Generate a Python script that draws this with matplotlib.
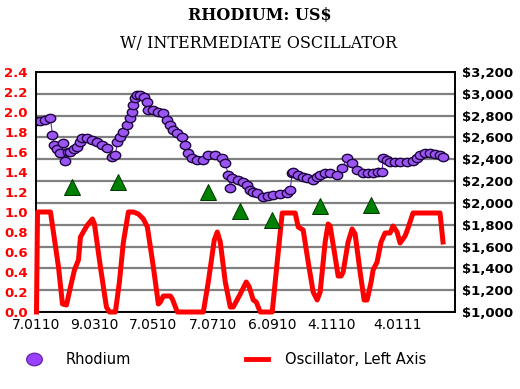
import matplotlib
matplotlib.use("Agg")
import matplotlib.pyplot as plt
from matplotlib.markers import MarkerStyle
from matplotlib.transforms import Affine2D
from matplotlib.lines import Line2D
from matplotlib.ticker import FuncFormatter

# x positions are days since 7 Jan 2010
rhodium_days = [0, 4, 9, 14, 16, 18, 21, 24, 27, 29,
                32, 34, 38, 41, 44, 46, 51, 56, 61, 66,
                71, 76, 79, 81, 84, 87, 91, 94, 96, 97,
                99, 101, 104, 108, 111, 112, 117, 122, 127, 131,
                134, 137, 141, 146, 149, 152, 156, 161, 167, 172,
                179, 186, 189, 192, 194, 196, 202, 207, 211, 214,
                217, 221, 227, 232, 237, 244, 251, 254, 256, 257,
                262, 267, 271, 277, 281, 284, 289, 294, 301, 306,
                311, 316, 321, 327, 332, 337, 342, 346, 347, 351,
                354, 359, 364, 371, 377, 381, 384, 389, 394, 399,
                404, 407]
rhodium_price = [2750, 2750, 2760, 2775, 2620, 2530, 2490, 2460, 2550, 2380,
                 2470, 2470, 2490, 2515, 2560, 2595, 2595, 2580, 2560, 2530,
                 2505, 2420, 2440, 2560, 2605, 2650, 2715, 2780, 2835, 2895,
                 2960, 2990, 2985, 2975, 2925, 2855, 2850, 2830, 2825, 2760,
                 2715, 2670, 2640, 2605, 2530, 2460, 2410, 2395, 2395, 2440,
                 2440, 2410, 2365, 2255, 2140, 2230, 2210, 2190, 2165, 2120,
                 2100, 2090, 2055, 2065, 2070, 2080, 2090, 2120, 2275, 2285,
                 2255, 2240, 2230, 2210, 2235, 2255, 2270, 2275, 2255, 2320,
                 2410, 2365, 2305, 2275, 2270, 2275, 2280, 2285, 2410, 2390,
                 2375, 2375, 2375, 2375, 2380, 2410, 2440, 2455, 2455, 2450,
                 2440, 2420]

osc_days = [0, 1, 14, 22, 26, 30, 34, 38, 42, 44,
            48, 51, 56, 58, 64, 70, 73, 79, 83, 87,
            92, 97, 102, 107, 111, 117, 122, 124, 127, 134,
            136, 141, 167, 172, 178, 181, 184, 189, 194, 197,
            204, 210, 213, 217, 220, 224, 236, 241, 246, 259,
            262, 267, 272, 277, 281, 284, 289, 292, 294, 299,
            302, 305, 307, 312, 316, 319, 324, 328, 331, 335,
            337, 341, 345, 349, 354, 357, 361, 364, 369, 372,
            377, 404, 407]
osc_value = [0.0, 1.0, 1.0, 0.45, 0.08, 0.07, 0.25, 0.42, 0.52, 0.75,
             0.82, 0.87, 0.93, 0.88, 0.45, 0.05, 0.0, 0.0, 0.3, 0.7,
             1.0, 1.0, 0.98, 0.93, 0.85, 0.45, 0.08, 0.1, 0.16, 0.16,
             0.13, 0.0, 0.0, 0.3, 0.72, 0.8, 0.7, 0.3, 0.05, 0.05,
             0.18, 0.3, 0.25, 0.12, 0.1, 0.0, 0.0, 0.5, 0.99, 0.99,
             0.85, 0.82, 0.5, 0.2, 0.12, 0.2, 0.7, 0.88, 0.86, 0.55,
             0.36, 0.36, 0.4, 0.7, 0.83, 0.78, 0.4, 0.12, 0.12, 0.3,
             0.42, 0.5, 0.7, 0.79, 0.79, 0.86, 0.8, 0.69, 0.76, 0.84,
             0.99, 0.99, 0.7]

signal_days = [36, 82, 172, 204, 236, 284, 335]
signal_value = [1.25, 1.30, 1.20, 1.01, 0.92, 1.06, 1.07]

tick_days = [0, 58, 117, 177, 236, 295, 361]
tick_labels = ["7.0110", "9.0310", "7.0510", "7.0710", "6.0910", "4.1110", "4.0111"]

fig = plt.figure(figsize=(5.2, 3.89), dpi=100)
ax = fig.add_axes([36 / 520, 1 - 312 / 389, 419 / 520, 240 / 389])
ax2 = ax.twinx()

# price axis (right labels, owns the gridlines)
ax.yaxis.tick_right()
ax.set_ylim(1000, 3200)
ax.set_yticks(range(1000, 3201, 200))
ax.yaxis.set_major_formatter(FuncFormatter(lambda v, p: "${:,.0f}".format(v)))
ax.grid(axis="y", color="#808080", lw=1.6)
ax.set_axisbelow(True)
ax.set_xlim(-0.5, 419)
ax.set_xticks(tick_days)
ax.set_xticklabels(tick_labels, fontsize=10)
ax.tick_params(axis="x", length=0, pad=4)
ax.tick_params(axis="y", length=0, pad=5, labelsize=9.5)
for lab in ax.get_yticklabels():
    lab.set_fontweight("bold")

ellipse = MarkerStyle("o", transform=Affine2D().scale(1.25, 1.0))
ax.plot(rhodium_days, rhodium_price, color="#6a30c0", lw=0.8,
        marker=ellipse, ms=6, mfc="#9a55f2", mec="#1e0640", mew=1.0, zorder=3)

# oscillator axis (left labels)
ax2.yaxis.tick_left()
ax2.set_ylim(0, 2.4)
ax2.set_yticks([i * 0.2 for i in range(13)])
ax2.yaxis.set_major_formatter(FuncFormatter(lambda v, p: "%.1f" % v))
ax2.tick_params(axis="y", length=0, pad=6, labelsize=9.5, labelcolor="#ff0000")
for lab in ax2.get_yticklabels():
    lab.set_fontweight("bold")

ax2.plot(osc_days, osc_value, color="#ff0000", lw=3.6, clip_on=False, zorder=3)
ax2.plot(signal_days, signal_value, ls="none", marker="^", ms=11,
         mfc="#008000", mec="#003300", mew=0.7, zorder=4)

for a in (ax, ax2):
    for s in a.spines.values():
        s.set_color("black")
        s.set_linewidth(1.2)

fig.text(260 / 520, 1 - 16 / 389, "RHODIUM: US$", ha="center", va="center",
         family="DejaVu Serif", fontweight="bold", fontsize=11.5)
fig.text(259 / 520, 1 - 44 / 389, "W/ INTERMEDIATE OSCILLATOR", ha="center", va="center",
         family="DejaVu Serif", fontsize=11.5)

h1 = Line2D([], [], ls="none", marker=ellipse, ms=9, mfc="#9a40ff", mec="#6a2ab0")
h2 = Line2D([], [], color="#ff0000", lw=3.5)
fig.legend(handles=[h1], labels=["Rhodium"], loc="center left",
           bbox_to_anchor=(23 / 520, 1 - 360 / 389), frameon=False, fontsize=10.5,
           handlelength=1.5, handletextpad=1.4, borderpad=0, borderaxespad=0)
fig.legend(handles=[h2], labels=["Oscillator, Left Axis"], loc="center left",
           bbox_to_anchor=(246 / 520, 1 - 360 / 389), frameon=False, fontsize=10.5,
           handlelength=1.5, handletextpad=1.2, borderpad=0, borderaxespad=0)

fig.savefig("out.png", dpi=100)
